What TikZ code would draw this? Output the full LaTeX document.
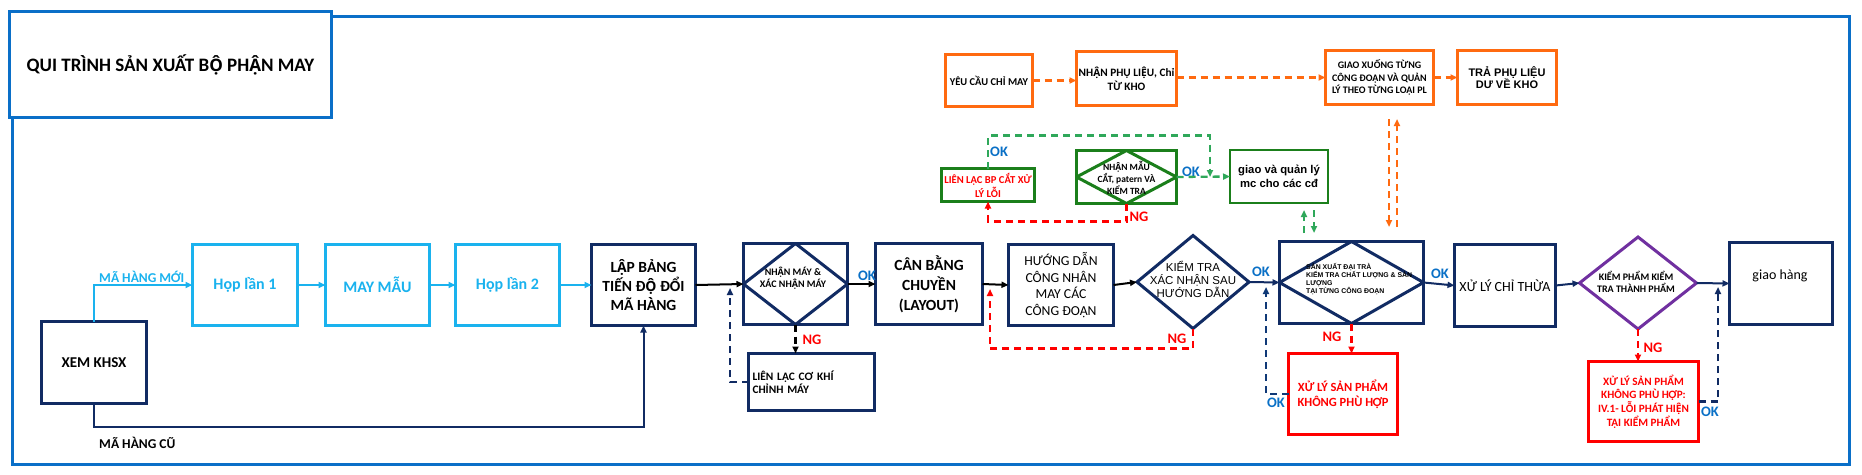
\documentclass[tikz,border=0pt]{standalone}
\usepackage{fontspec}
\setmainfont{Carlito}
\newfontfamily\arialf{Liberation Sans}
\newfontfamily\vfb{Open Sans}[Scale=0.9]
\newcommand{\vAc}{{\vfb Ậ}}
\newcommand{\vOc}{{\vfb Ộ}}
\newcommand{\vEc}{{\vfb Ệ}}
\usetikzlibrary{arrows.meta,shapes.geometric,calc}
\definecolor{navy}{HTML}{112B63}
\definecolor{lblue}{HTML}{1AB2EE}
\definecolor{orng}{HTML}{FF6A10}
\definecolor{grn}{HTML}{1B7F1B}
\definecolor{lgrn}{HTML}{2FA85A}
\definecolor{okblue}{HTML}{0A70C6}
\definecolor{frameblue}{HTML}{0A6FC8}
\definecolor{purp}{HTML}{7030A0}
\definecolor{rd}{HTML}{FF0000}
\newcommand{\fsz}[2]{\fontsize{#1}{#2}\selectfont}
\tikzset{
  bx/.style={draw, rectangle, line width=3pt, inner sep=1pt, outer sep=0pt, align=center, fill=white},
  nv/.style={bx, draw=navy},
  lb/.style={bx, draw=lblue, text=lblue, font=\fsz{16}{19}\bfseries},
  og/.style={bx, draw=orng, line width=3.5pt},
  gr/.style={bx, draw=grn},
  rdb/.style={bx, draw=rd, text=rd},
  tip/.style={-{Triangle[length=7pt,width=6pt]}},
  conn/.style={tip, line width=2pt},
  blk/.style={conn, draw=black},
  nvc/.style={conn, draw=navy},
  lbc/.style={conn, draw=lblue},
  dsh/.style={tip, line width=2.3pt, dash pattern=on 7pt off 5pt},
  okl/.style={text=okblue, font=\fsz{14.5}{16}\bfseries, inner sep=0pt},
  ngl/.style={text=rd, font=\fsz{14.5}{16}\bfseries, inner sep=0pt},
  txt/.style={inner sep=0pt, align=center},
  india/.style={line width=3pt, line join=round},
}
\begin{document}
\begin{tikzpicture}[x=1pt,y=-1pt]
\useasboundingbox (0,0) rectangle (1862,474);
% frame and title
\node[draw=frameblue, line width=3pt, rectangle, inner sep=0pt, minimum width=1837pt, minimum height=448pt] (frame) at (930.5,240) {};
\node[bx, draw=frameblue, minimum width=322pt, minimum height=106pt, font=\fsz{19}{22}\bfseries] (title) at (170.5,64.5) {QUI TRÌNH SẢN XUẤT B\vOc{} PH\vAc{}N MAY};

% left part
\node[nv, minimum width=105pt, minimum height=82pt, font=\fsz{15}{18}\bfseries] (xem) at (94,362.5) {XEM KHSX};
\node[lb, minimum width=105pt, minimum height=81pt] (hop1) at (245,285) {Họp lần 1};
\node[lb, minimum width=104pt, minimum height=81pt] (maymau) at (377.5,285) {MAY MẪU};
\node[lb, minimum width=104pt, minimum height=81pt] (hop2) at (507.5,285) {Họp lần 2};
\node[nv, minimum width=104pt, minimum height=81pt, font=\fsz{15.5}{19}\bfseries] (lap) at (643.5,285) {L\vAc{}P BẢNG\\TIẾN Đ\vOc{} ĐỔI\\MÃ HÀNG};

\node[nv, minimum width=104pt, minimum height=81pt] (nmay) at (795.5,284) {};
\draw[india, navy] (nmay.west) -- (nmay.north) -- (nmay.east) -- (nmay.south) -- cycle;
\node[txt, font=\fsz{10}{11.6}\bfseries] (nmayt) at (793,278) {NH\vAc{}N MÁY \&\\XÁC NH\vAc{}N MÁY};

\node[nv, minimum width=126pt, minimum height=57pt, font=\fsz{11.4}{13.5}\bfseries, align=left, text width=118pt] (llck) at (811.5,382) {LIÊN LẠC CƠ KHÍ\\CHỈNH MÁY};

\node[nv, minimum width=107pt, minimum height=81pt, font=\fsz{15.5}{20}\bfseries] (canbang) at (929,284) {CÂN BẰNG\\CHUYỀN\\(LAYOUT)};
\node[nv, minimum width=105pt, minimum height=81pt, font=\fsz{13.7}{16.5}] (huongdan) at (1061,285) {HƯỚNG DẪN\\CÔNG NHÂN\\MAY CÁC\\CÔNG ĐOẠN};

\node[diamond, draw=navy, line width=3pt, minimum width=112pt, minimum height=93pt, inner sep=0pt, outer sep=0pt] (kt) at (1193,282) {};
\node[txt, font=\arialf\fsz{11.5}{13}] (ktt) at (1193,279) {KIỂM TRA\\XÁC NHẬN SAU\\HƯỚNG DẪN};

\node[nv, minimum width=144pt, minimum height=82pt] (sx) at (1351.5,282.5) {};
\draw[india, navy] (sx.west) -- (sx.north) -- (sx.east) -- (sx.south) -- cycle;
\node[txt, anchor=west, align=left, font=\arialf\fsz{6.9}{8}\bfseries] (sxt) at (1306,279) {SẢN XUẤT ĐẠI TRÀ\\KIỂM TRA CHẤT LƯỢNG \& SẢN\\LƯỢNG\\TẠI TỪNG CÔNG ĐOẠN};

\node[rdb, minimum width=109pt, minimum height=81pt, font=\fsz{12.5}{15}\bfseries] (xlsp) at (1343,394) {XỬ LÝ SẢN PHẨM\\KHÔNG PHÙ HỢP};

\node[nv, minimum width=101pt, minimum height=82pt, font=\fsz{14}{16}] (xlct) at (1505,285.5) {XỬ LÝ CHỈ THỪA};

\node[diamond, draw=purp, line width=3pt, minimum width=117pt, minimum height=92pt, inner sep=0pt, outer sep=0pt] (kp) at (1638,283) {};
\node[txt, font=\fsz{10}{12}\bfseries] (kpt) at (1636,282) {KIỂM PHẨM KIỂM\\TRA THÀNH PHẨM};

\node[rdb, minimum width=110pt, minimum height=80pt, font=\fsz{11.2}{13.7}\bfseries] (xlsp2) at (1643.5,401.5) {XỬ LÝ SẢN PHẨM\\KHÔNG PHÙ HỢP:\\IV.1- LỖI PHÁT HI\vEc{}N\\TẠI KIỂM PHẨM};

\node[nv, minimum width=103pt, minimum height=82pt] (giao) at (1781,283.5) {};
\node[txt, font=\fsz{14}{16}] (giaot) at (1780,276) {giao hàng};

% top orange row
\node[og, minimum width=87pt, minimum height=52pt, font=\fsz{10.5}{13}\bfseries] (ycc) at (989,80.5) {YÊU CẦU CHỈ MAY};
\node[og, minimum width=100pt, minimum height=54pt, font=\fsz{11.3}{14}\bfseries] (npl) at (1126.5,78.5) {NH\vAc{}N PHỤ LI\vEc{}U, Chỉ\\TỪ KHO};
\node[og, minimum width=108pt, minimum height=54pt, font=\fsz{10}{12.5}\bfseries] (gx) at (1379.5,77.5) {GIAO XUỐNG TỪNG\\CÔNG ĐOẠN VÀ QUẢN\\LÝ THEO TỪNG LOẠI PL};
\node[og, minimum width=99pt, minimum height=54pt, font=\arialf\fsz{11}{12.5}\bfseries] (tpl) at (1507,77.5) {TRẢ PHỤ LIỆU\\DƯ VỀ KHO};

% green section
\node[gr, minimum width=93pt, minimum height=33pt, text=rd, font=\fsz{10.6}{14}\bfseries] (llbp) at (988,185) {LIÊN LẠC BP CẮT XỬ\\LÝ LỖI};
\node[gr, minimum width=100pt, minimum height=53pt] (nm) at (1126.5,177) {};
\draw[india, grn] (nm.west) -- (nm.north) -- (nm.east) -- (nm.south) -- cycle;
\node[txt, font=\fsz{9.5}{12}\bfseries] (nmt) at (1126.5,178) {NH\vAc{}N MẪU\\CẮT, patern VÀ\\KIỂM TRA};
\node[gr, line width=2.4pt, minimum width=98pt, minimum height=53pt, font=\arialf\fsz{11.3}{14}\bfseries] (gvq) at (1279,176.5) {giao và quản lý\\mc cho các cđ};

% coordinates for free ends
\coordinate (c1) at (730,288);
\coordinate (c2) at (990,289);
\coordinate (c3) at (1266,287);
\coordinate (c4) at (1718,287);
\coordinate (g1) at (1210,177);
\coordinate (o1a) at (1389,119);
\coordinate (o1b) at (1389,227);
\coordinate (o2a) at (1397,227);
\coordinate (o2b) at (1397,119);
\coordinate (e1a) at (1304,233);
\coordinate (e1b) at (1304,210);
\coordinate (e2a) at (1314,210);
\coordinate (e2b) at (1314,233);

% connectors left
\draw[lbc] (xem.north) |- (hop1.west);
\node[anchor=west, inner sep=0pt, text=lblue, font=\fsz{13.5}{15}\bfseries] (lnew) at (99,277) {MÃ HÀNG MỚI};
\draw[lbc] (hop1.east) -- (maymau.west);
\draw[lbc] (maymau.east) -- (hop2.west);
\draw[lbc] (hop2.east) -- (lap.west);
\draw[nvc] (xem.south) -- ++(0,23) -| (lap.south);
\node[anchor=west, inner sep=0pt, font=\fsz{13.5}{15}\bfseries] (lold) at (99,443) {MÃ HÀNG CŨ};

\draw[blk] (lap.east) -- (nmay.west);
\draw[dsh, draw=black] (nmay.south) -- (nmay.south |- llck.north);
\node[ngl] (ng1) at (812,340) {NG};
\draw[dsh, draw=navy] (llck.west) -| (c1);
\draw[blk] (nmay.east) -- (canbang.west);
\node[okl] (ok1) at (867,276) {OK};
\draw[blk] (canbang.east) -- (huongdan.west);
\draw[blk] (huongdan.east) -- (kt.west);
\draw[dsh, draw=rd] (kt.south) -- ++(0,20) -| (c2);
\node[ngl] (ng2) at (1177,339) {NG};
\draw[nvc] (kt.east) -- (sx.west);
\node[okl] (ok2) at (1261,272) {OK};
\draw[dsh, draw=navy!80!okblue] (xlsp.west) -| (c3);
\node[okl] (ok3) at (1276,403) {OK};
\draw[dsh, draw=rd] (sx.south) -- (sx.south |- xlsp.north);
\node[ngl] (ng3) at (1332,337) {NG};
\draw[nvc] (sx.east) -- (xlct.west);
\node[okl] (ok4) at (1440,274) {OK};
\draw[nvc] (xlct.east) -- (kp.west);
\draw[nvc] (kp.east) -- (giao.west);
\draw[dsh, draw=rd] (kp.south) -- (kp.south |- xlsp2.north);
\node[ngl] (ng4) at (1653,348) {NG};
\draw[dsh, draw=navy] (xlsp2.east) -| (c4);
\node[okl] (ok5) at (1710,412) {OK};

% orange connectors
\draw[dsh, draw=orng] (ycc.east) -- (ycc.east -| npl.west);
\draw[dsh, draw=orng] (npl.east |- gx.west) -- (gx.west);
\draw[dsh, draw=orng] (gx.east) -- (tpl.west);
\draw[dsh, draw=orng] (o1a) -- (o1b);
\draw[dsh, draw=orng] (o2a) -- (o2b);

% green connectors
\draw[dsh, draw=lgrn] (nm.east) -- (gvq.west);
\node[okl] (ok6) at (1191,172) {OK};
\draw[dsh, draw=lgrn] (llbp.north) -- ++(0,-33) -| (g1);
\node[okl, anchor=west] (ok7) at (990,152) {OK};
\draw[dsh, draw=rd] (nm.south) -- ++(0,18) -| (llbp.south);
\node[ngl] (ng5) at (1139,217) {NG};
\draw[dsh, draw=lgrn] (e1a) -- (e1b);
\draw[dsh, draw=lgrn] (e2a) -- (e2b);
\end{tikzpicture}
\end{document}
